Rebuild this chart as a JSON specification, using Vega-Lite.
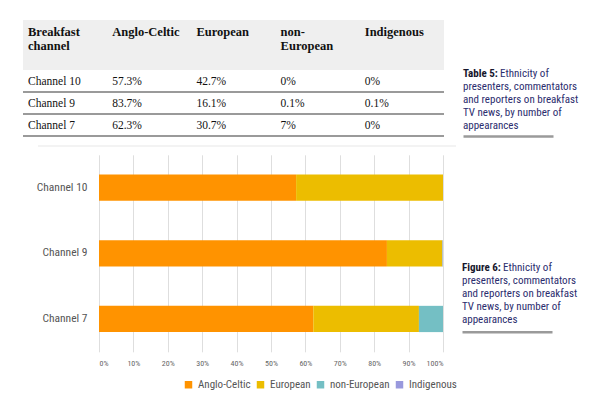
{
  "$schema": "https://vega.github.io/schema/vega-lite/v6.json",
  "background": "white",
  "padding": {"left": 22, "top": 20, "right": 0, "bottom": 0},
  "columns": 1,
  "align": "none",
  "spacing": 8.4,
  "config": {
    "view": {"stroke": null},
    "font": "Noto Sans ExtraCondensed, Roboto Condensed, Noto Sans Condensed, Liberation Sans Narrow, DejaVu Sans Condensed, sans-serif"
  },
  "datasets": {
    "head": [
      {"col": "c0", "t": "Breakfast\nchannel"},
      {"col": "c1", "t": "Anglo-Celtic"},
      {"col": "c2", "t": "European"},
      {"col": "c3", "t": "non-\nEuropean"},
      {"col": "c4", "t": "Indigenous"}
    ],
    "body": [
      {"row": "Channel 10", "col": "c0", "t": "Channel 10"},
      {"row": "Channel 10", "col": "c1", "t": "57.3%"},
      {"row": "Channel 10", "col": "c2", "t": "42.7%"},
      {"row": "Channel 10", "col": "c3", "t": "0%"},
      {"row": "Channel 10", "col": "c4", "t": "0%"},
      {"row": "Channel 9", "col": "c0", "t": "Channel 9"},
      {"row": "Channel 9", "col": "c1", "t": "83.7%"},
      {"row": "Channel 9", "col": "c2", "t": "16.1%"},
      {"row": "Channel 9", "col": "c3", "t": "0.1%"},
      {"row": "Channel 9", "col": "c4", "t": "0.1%"},
      {"row": "Channel 7", "col": "c0", "t": "Channel 7"},
      {"row": "Channel 7", "col": "c1", "t": "62.3%"},
      {"row": "Channel 7", "col": "c2", "t": "30.7%"},
      {"row": "Channel 7", "col": "c3", "t": "7%"},
      {"row": "Channel 7", "col": "c4", "t": "0%"}
    ],
    "bars": [
      {"channel": "Channel 10", "group": "Anglo-Celtic", "k": 1, "value": 57.3},
      {"channel": "Channel 10", "group": "European", "k": 2, "value": 42.7},
      {"channel": "Channel 10", "group": "non-European", "k": 3, "value": 0},
      {"channel": "Channel 10", "group": "Indigenous", "k": 4, "value": 0},
      {"channel": "Channel 9", "group": "Anglo-Celtic", "k": 1, "value": 83.7},
      {"channel": "Channel 9", "group": "European", "k": 2, "value": 16.1},
      {"channel": "Channel 9", "group": "non-European", "k": 3, "value": 0.1},
      {"channel": "Channel 9", "group": "Indigenous", "k": 4, "value": 0.1},
      {"channel": "Channel 7", "group": "Anglo-Celtic", "k": 1, "value": 62.3},
      {"channel": "Channel 7", "group": "European", "k": 2, "value": 30.7},
      {"channel": "Channel 7", "group": "non-European", "k": 3, "value": 7},
      {"channel": "Channel 7", "group": "Indigenous", "k": 4, "value": 0}
    ],
    "cap5": [
      {"line": 1, "part": "b", "t": "Table 5:"},
      {"line": 1, "part": "r1", "t": "Ethnicity of"},
      {"line": 2, "part": "r", "t": "presenters, commentators"},
      {"line": 3, "part": "r", "t": "and reporters on breakfast"},
      {"line": 4, "part": "r", "t": "TV news, by number of"},
      {"line": 5, "part": "r", "t": "appearances"}
    ],
    "cap6": [
      {"line": 1, "part": "b", "t": "Figure 6:"},
      {"line": 1, "part": "r1", "t": "Ethnicity of"},
      {"line": 2, "part": "r", "t": "presenters, commentators"},
      {"line": 3, "part": "r", "t": "and reporters on breakfast"},
      {"line": 4, "part": "r", "t": "TV news, by number of"},
      {"line": 5, "part": "r", "t": "appearances"}
    ],
    "one": [{"k": 1}]
  },
  "concat": [
    {
      "hconcat": [
        {
          "vconcat": [
            {
              "width": 421,
              "height": 50,
              "view": {"fill": "#efefef", "stroke": null},
              "data": {"name": "head"},
              "mark": {"type": "text", "align": "left", "baseline": "top", "dx": 5, "dy": 6, "font": "Liberation Serif, DejaVu Serif, serif", "fontWeight": "bold", "fontSize": 12.5, "lineBreak": "\n", "lineHeight": 14.3, "color": "#111111"},
              "encoding": {
                "x": {"field": "col", "type": "nominal", "bandPosition": 0, "scale": {"type": "band", "domain": ["c0", "c1", "c2", "c3", "c4"], "paddingInner": 0, "paddingOuter": 0}, "axis": null},
                "y": {"datum": "h", "type": "nominal", "bandPosition": 0, "scale": {"type": "band", "paddingInner": 0, "paddingOuter": 0}, "axis": null},
                "text": {"field": "t"}
              }
            },
            {
              "width": 421,
              "height": 66,
              "data": {"name": "body"},
              "layer": [
                {
                  "transform": [{"filter": "datum.col == 'c0'"}],
                  "mark": {"type": "rule", "color": "#9a9a9a", "strokeWidth": 1.8},
                  "encoding": {
                    "y": {"field": "row", "type": "nominal", "bandPosition": 1, "sort": ["Channel 10", "Channel 9", "Channel 7"], "scale": {"type": "band", "paddingInner": 0, "paddingOuter": 0}, "axis": null}
                  }
                },
                {
                  "mark": {"type": "text", "align": "left", "baseline": "middle", "dx": 5, "dy": 1, "font": "Liberation Serif, DejaVu Serif, serif", "fontSize": 11.5, "color": "#111111"},
                  "encoding": {
                    "x": {"field": "col", "type": "nominal", "bandPosition": 0, "scale": {"type": "band", "domain": ["c0", "c1", "c2", "c3", "c4"], "paddingInner": 0, "paddingOuter": 0}, "axis": null},
                    "y": {"field": "row", "type": "nominal", "sort": ["Channel 10", "Channel 9", "Channel 7"], "scale": {"type": "band", "paddingInner": 0, "paddingOuter": 0}, "axis": null},
                    "text": {"field": "t"}
                  }
                }
              ]
            }
          ],
          "spacing": 0
        },
        {
          "width": 90,
          "height": 116,
          "data": {"name": "cap5"},
          "encoding": {
            "x": {"datum": "a", "type": "nominal", "bandPosition": 0, "scale": {"type": "band", "paddingInner": 0, "paddingOuter": 0}, "axis": {"domain": true, "domainColor": "#9a9a9a", "domainWidth": 2.5, "labels": false, "ticks": false, "title": null, "grid": false}},
            "y": {"field": "line", "type": "ordinal", "scale": {"type": "band", "domain": [-2, -1, 0, 1, 2, 3, 4, 5], "paddingInner": 0, "paddingOuter": 0.46, "align": 0.708}, "axis": null},
            "text": {"field": "t"}
          },
          "layer": [
            {"transform": [{"filter": "datum.part == 'r'"}], "mark": {"type": "text", "align": "left", "baseline": "middle", "fontSize": 11, "color": "#2b2d6e"}},
            {"transform": [{"filter": "datum.part == 'r1'"}], "mark": {"type": "text", "align": "left", "baseline": "middle", "dx": 37, "fontSize": 11, "color": "#2b2d6e"}},
            {"transform": [{"filter": "datum.part == 'b'"}], "mark": {"type": "text", "align": "left", "baseline": "middle", "fontSize": 11, "fontWeight": "bold", "color": "#16162c"}}
          ]
        }
      ],
      "spacing": 18
    },
    {
      "hconcat": [
        {"width": 15, "height": 1, "data": {"name": "one"}, "mark": {"type": "point", "size": 0, "opacity": 0}, "encoding": {}},
        {"width": 418, "height": 1, "view": {"fill": "#e8e8e8", "stroke": null}, "data": {"name": "one"}, "mark": {"type": "point", "size": 0, "opacity": 0}, "encoding": {}}
      ],
      "spacing": 0
    },
    {
      "hconcat": [
        {"width": 1, "height": 1, "data": {"name": "one"}, "mark": {"type": "point", "size": 0, "opacity": 0}, "encoding": {}},
        {
          "hconcat": [
            {
              "width": 344,
              "height": 197,
              "data": {"name": "bars"},
              "mark": {"type": "bar"},
              "encoding": {
                "y": {"field": "channel", "type": "nominal", "sort": ["Channel 10", "Channel 9", "Channel 7"], "scale": {"paddingInner": 0.6, "paddingOuter": 0.3}, "axis": {"title": null, "ticks": false, "domain": false, "labelPadding": 12, "labelFontSize": 11.5, "labelColor": "#555555", "minExtent": 75, "maxExtent": 75}},
                "x": {"field": "value", "type": "quantitative", "stack": "zero", "scale": {"domain": [0, 100]}, "axis": {"title": null, "values": [0, 10, 20, 30, 40, 50, 60, 70, 80, 90, 100], "labelExpr": "datum.value + '%'", "ticks": false, "domain": false, "grid": true, "gridColor": "#dedede", "labelFontSize": 8, "labelColor": "#666666", "labelPadding": 8}},
                "color": {"field": "group", "type": "nominal", "scale": {"domain": ["Anglo-Celtic", "European", "non-European", "Indigenous"], "range": ["#ff9300", "#ecbd00", "#74bfc4", "#9999dd"]}, "legend": {"orient": "none", "legendX": 160, "legendY": 359, "padding": 0, "direction": "horizontal", "title": null, "symbolType": "square", "symbolSize": 56, "symbolStrokeWidth": 0, "labelFontSize": 11, "labelColor": "#555555", "columnPadding": 4, "labelOffset": 4}},
                "order": {"field": "k", "type": "quantitative"}
              }
            },
            {
              "width": 90,
              "height": 177,
              "data": {"name": "cap6"},
              "encoding": {
                "x": {"datum": "a", "type": "nominal", "bandPosition": 0, "scale": {"type": "band", "paddingInner": 0, "paddingOuter": 0}, "axis": {"domain": true, "domainColor": "#9a9a9a", "domainWidth": 2.5, "labels": false, "ticks": false, "title": null, "grid": false}},
                "y": {"field": "line", "type": "ordinal", "scale": {"type": "band", "domain": [-7, -6, -5, -4, -3, -2, -1, 0, 1, 2, 3, 4, 5], "paddingInner": 0, "paddingOuter": 0.3077, "align": 0.4}, "axis": null},
                "text": {"field": "t"}
              },
              "layer": [
                {"transform": [{"filter": "datum.part == 'r'"}], "mark": {"type": "text", "align": "left", "baseline": "middle", "fontSize": 11, "color": "#2b2d6e"}},
                {"transform": [{"filter": "datum.part == 'r1'"}], "mark": {"type": "text", "align": "left", "baseline": "middle", "dx": 41, "fontSize": 11, "color": "#2b2d6e"}},
                {"transform": [{"filter": "datum.part == 'b'"}], "mark": {"type": "text", "align": "left", "baseline": "middle", "fontSize": 11, "fontWeight": "bold", "color": "#16162c"}}
              ]
            }
          ],
          "spacing": 19
        }
      ],
      "spacing": 0
    }
  ]
}
